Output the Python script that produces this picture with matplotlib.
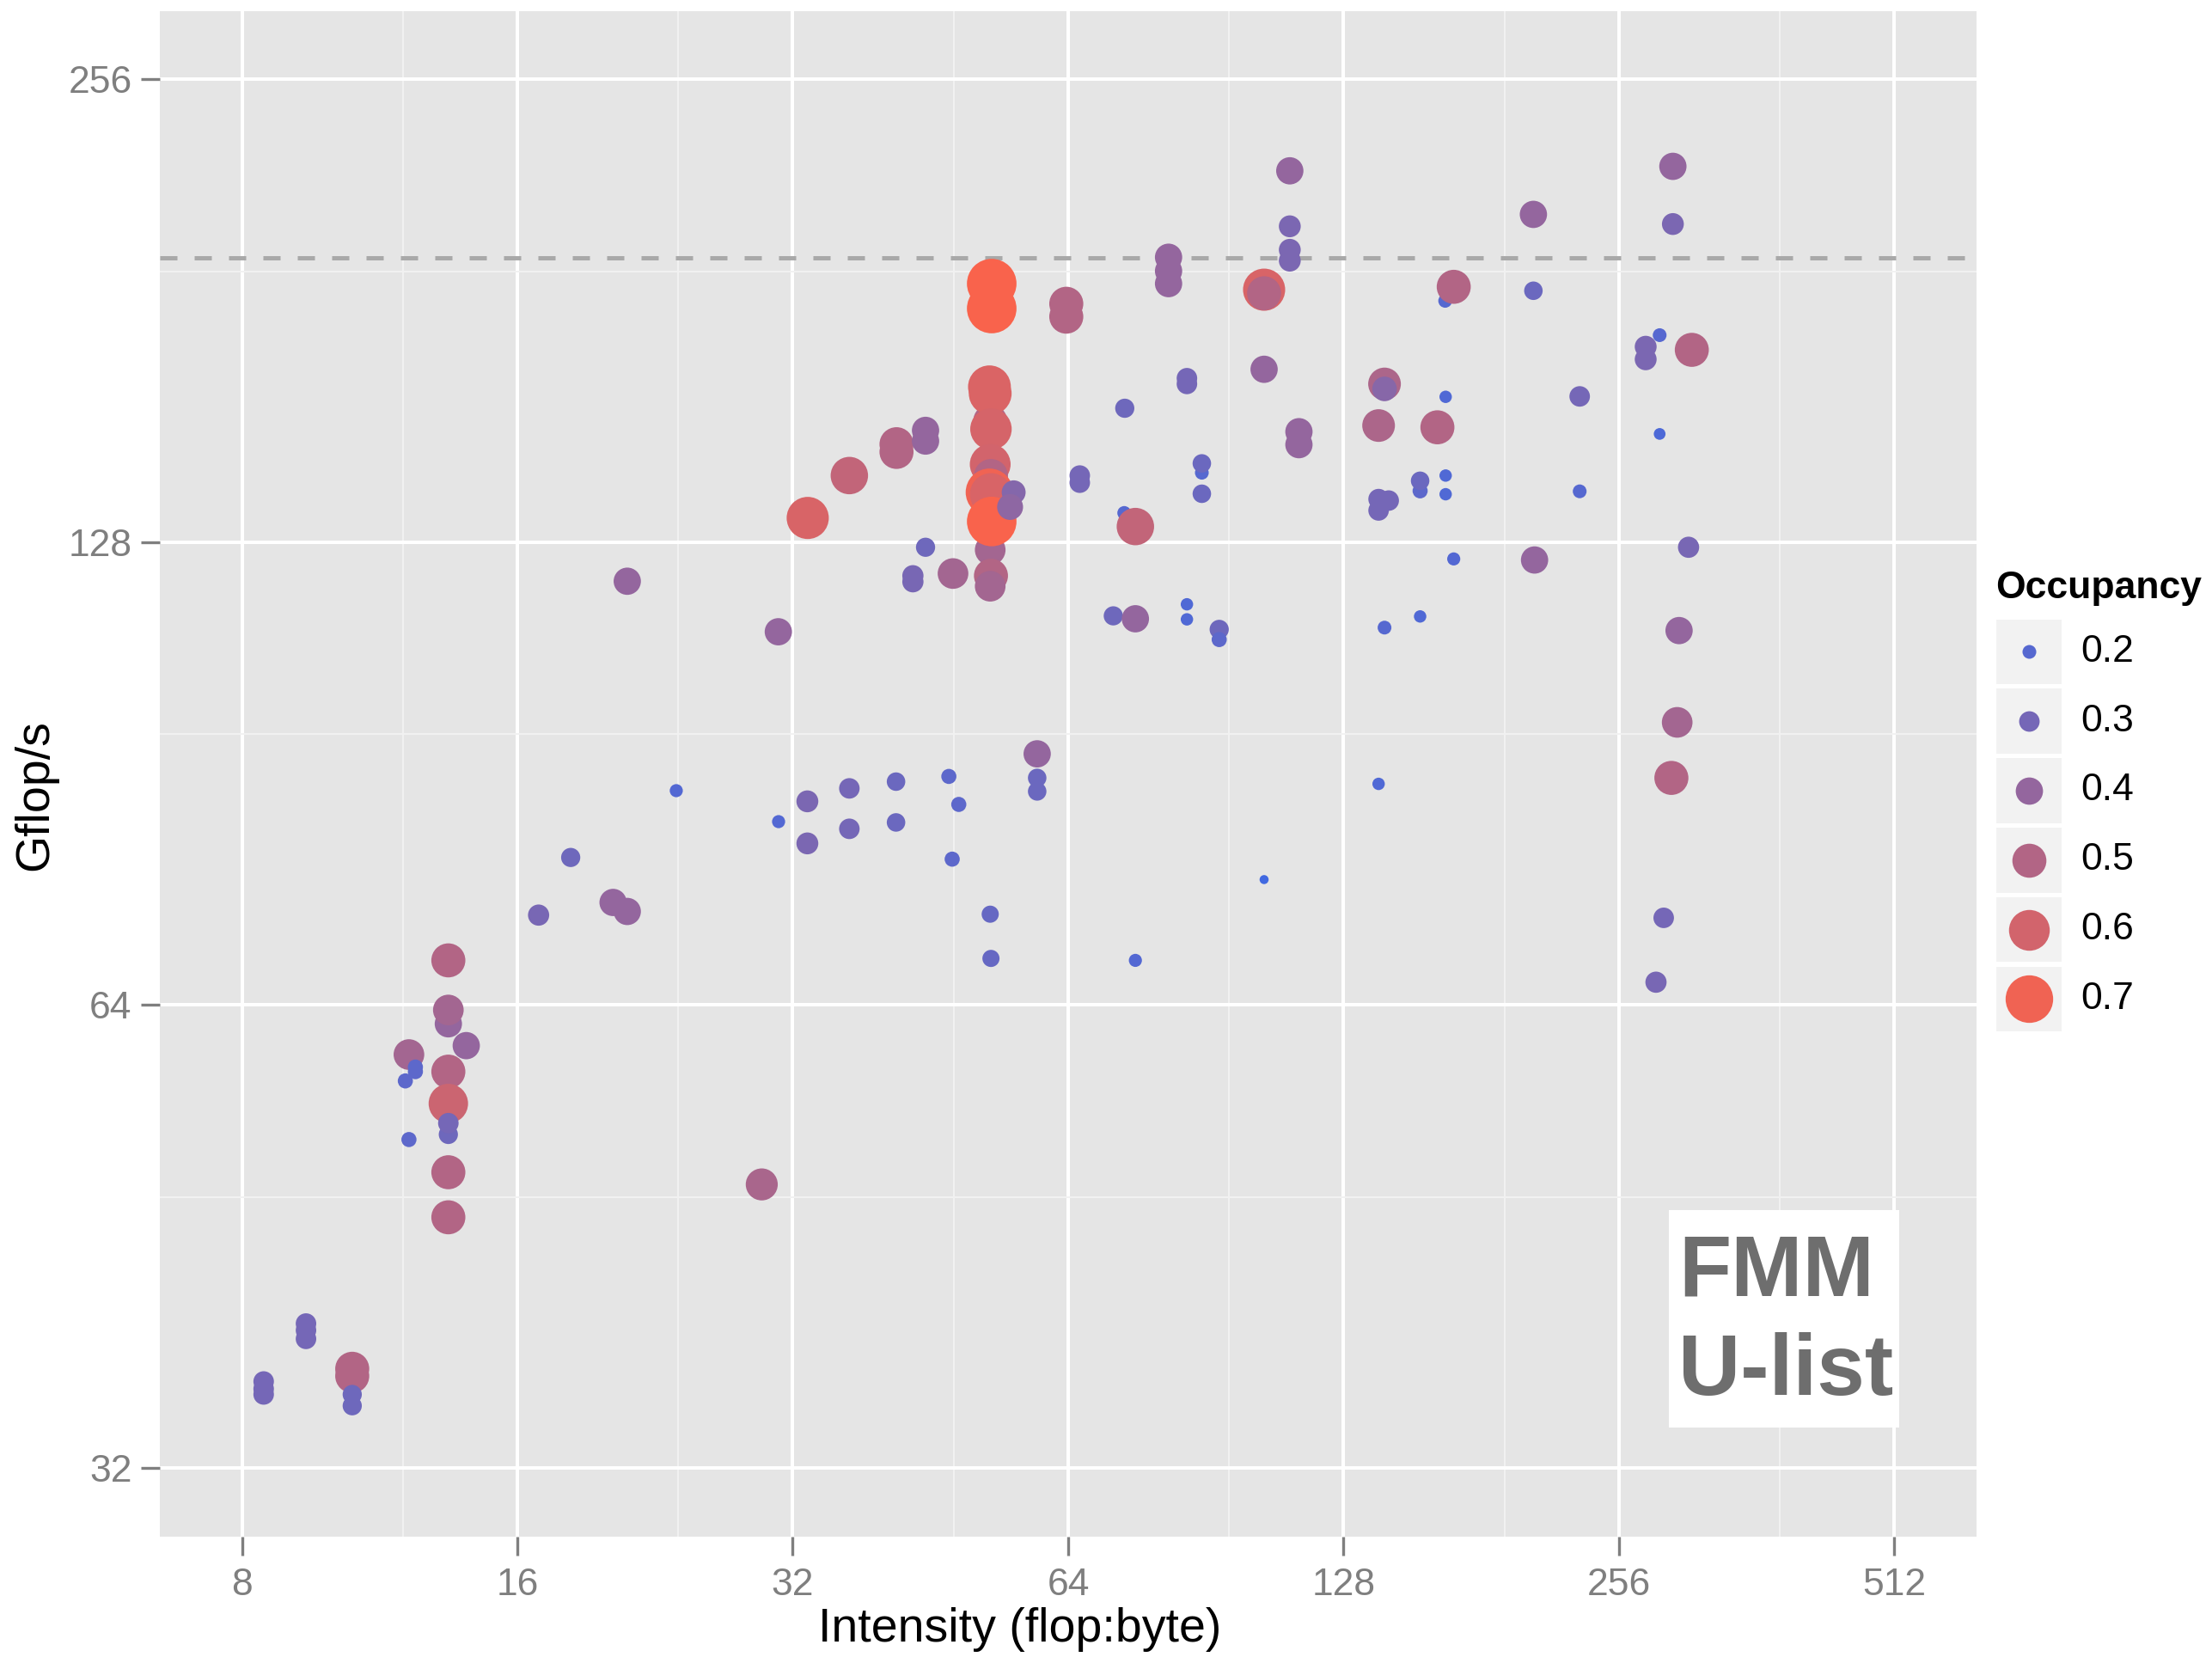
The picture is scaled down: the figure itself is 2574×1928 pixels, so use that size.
import matplotlib
matplotlib.use('Agg')
import matplotlib.pyplot as plt
from matplotlib.colors import LinearSegmentedColormap, Normalize
from matplotlib.patches import Rectangle
import numpy as np

plt.rcParams['font.family'] = ['Liberation Sans', 'DejaVu Sans']

# Arithmetic intensity (flop:byte), throughput (Gflop/s) and occupancy per kernel variant
intensity = [
    8.45, 8.45, 8.45, 9.40, 9.40, 9.40, 10.56, 10.56, 10.56, 10.56,
    13.45, 13.45, 13.45, 14.07, 12.18, 12.38, 12.38, 12.07, 13.45, 13.45,
    13.45, 13.45, 12.18, 13.45, 13.45,
    16.88, 18.3, 20.36, 21.1, 21.1, 23.87,
    29.6, 30.86, 30.88, 33.2, 33.2, 36.9, 36.9, 33.23, 36.9,
    41.55, 41.55, 44.7, 44.7, 44.7, 43.3, 43.3, 47.9, 41.5, 41.5, 47.4, 48.6, 47.8,
    52.6, 52.7, 52.6, 52.7, 52.6, 52.8, 52.8, 52.6, 52.5, 52.6, 52.7, 52.6, 52.7,
    52.5, 52.7, 52.8, 55.8, 55.3,
    59.2, 59.2, 59.2,
    63.7, 63.7, 65.9, 65.9, 73.8, 73.7, 75.8, 71.7, 75.8, 75.8,
    82.4, 82.4, 82.4, 86.3, 86.3, 89.6, 89.6, 89.6, 86.3, 86.3, 93.6, 93.6,
    104.8, 104.8, 104.8, 104.8, 111.8, 111.8, 111.8, 111.8, 114.4, 114.4,
    141.9, 141.9, 139.8, 162.1, 165.5, 139.8, 143.4, 139.8, 155.2, 155.2,
    165.5, 165.5, 141.9, 155.2, 139.8, 165.3, 168.9, 168.9,
    206.4, 206.4, 207.0, 231.9, 231.9, 273.8, 273.8, 283.6, 283.6, 293.2,
    293.2, 307.5, 305.0, 297.8, 296.4, 292.1, 286.5, 281.0,
]
gflops = [
    36.4, 36.0, 35.7, 39.7, 39.3, 38.8, 37.1, 36.7, 35.7, 35.1,
    68.4, 62.2, 63.5, 60.2, 59.4, 58.3, 57.9, 57.1, 57.9, 55.2,
    52.7, 53.6, 52.3, 49.8, 46.55,
    73.2, 79.8, 74.6, 73.6, 120.7, 88.2,
    48.9, 111.9, 84.2, 86.8, 81.5, 88.5, 83.3, 132.7, 141.4,
    148.2, 146.5, 151.3, 148.9, 127.0, 121.7, 120.6, 122.1, 89.4, 84.1, 90.1, 86.4, 79.6,
    73.3, 68.6, 126.5, 121.7, 119.8, 188.5, 181.6, 153.4, 161.5, 159.9, 151.6, 143.8, 141.3,
    137.9, 137.5, 132.0, 137.9, 134.9,
    93.2, 89.9, 88.1,
    182.9, 179.4, 141.4, 139.9, 156.4, 133.7, 131.0, 114.6, 114.1, 68.4,
    196.1, 192.1, 188.5, 163.6, 162.2, 142.0, 144.0, 137.6, 116.6, 114.0, 112.3, 110.6,
    186.8, 185.8, 165.8, 77.2, 223.2, 205.4, 198.3, 195.1, 151.0, 148.1,
    162.2, 161.0, 152.4, 152.0, 159.1, 136.5, 136.2, 134.2, 138.2, 140.3,
    141.4, 137.5, 112.6, 114.5, 89.1, 183.7, 187.6, 124.8,
    209.1, 186.5, 124.6, 159.2, 138.1, 171.5, 168.3, 174.5, 150.5, 224.7,
    206.1, 170.7, 127.0, 112.1, 97.7, 89.9, 72.9, 66.2,
]
occupancy = [
    0.30, 0.30, 0.30, 0.30, 0.30, 0.30, 0.50, 0.50, 0.28, 0.28,
    0.50, 0.40, 0.45, 0.40, 0.45, 0.22, 0.22, 0.22, 0.50, 0.58,
    0.28, 0.30, 0.22, 0.50, 0.50,
    0.31, 0.28, 0.40, 0.40, 0.40, 0.19,
    0.47, 0.40, 0.19, 0.32, 0.32, 0.30, 0.30, 0.62, 0.55,
    0.50, 0.50, 0.40, 0.40, 0.28, 0.31, 0.31, 0.45, 0.27, 0.27, 0.22, 0.22, 0.22,
    0.25, 0.25, 0.45, 0.50, 0.45, 0.73, 0.73, 0.50, 0.63, 0.63, 0.61, 0.60, 0.50,
    0.70, 0.62, 0.73, 0.35, 0.38,
    0.40, 0.27, 0.27,
    0.50, 0.50, 0.30, 0.30, 0.28, 0.20, 0.55, 0.28, 0.40, 0.19,
    0.40, 0.40, 0.40, 0.30, 0.30, 0.20, 0.27, 0.27, 0.18, 0.18, 0.28, 0.22,
    0.62, 0.50, 0.40, 0.13, 0.40, 0.32, 0.32, 0.32, 0.40, 0.40,
    0.48, 0.36, 0.48, 0.50, 0.18, 0.30, 0.30, 0.30, 0.22, 0.27,
    0.18, 0.18, 0.20, 0.18, 0.18, 0.20, 0.50, 0.19,
    0.40, 0.27, 0.40, 0.30, 0.20, 0.32, 0.32, 0.20, 0.17, 0.40,
    0.32, 0.50, 0.31, 0.40, 0.45, 0.50, 0.30, 0.31,
]
peak_gflops = 196

x_breaks = [8, 16, 32, 64, 128, 256, 512]
x_minor = [12, 24, 48, 96, 192, 384]
y_breaks = [32, 64, 128, 256]
y_minor = [48, 96, 192]
legend_levels = [0.2, 0.3, 0.4, 0.5, 0.6, 0.7]

W, H, DPI = 2574, 1928, 200

cmap = LinearSegmentedColormap.from_list('occ', ['royalblue', 'tomato'])
norm = Normalize(vmin=0.13, vmax=0.75)


def marker_area(occ):
    # diameter grows linearly with occupancy (pixels -> points)
    d_px = 0.3 + 78.6 * np.asarray(occ)
    return (d_px * 72.0 / DPI) ** 2


fig = plt.figure(figsize=(W / DPI, H / DPI), dpi=DPI)
fig.patch.set_facecolor('white')

left, right, top, bottom = 185.5, 2300, 13, 1788
ax = fig.add_axes([left / W, 1 - bottom / H, (right - left) / W, (bottom - top) / H])
ax.set_facecolor('#e5e5e5')
ax.set_xscale('log', base=2)
ax.set_yscale('log', base=2)
ax.set_xlim(6.5, 629.6)
ax.set_ylim(28.85, 283.5)

ax.set_xticks(x_breaks, [str(v) for v in x_breaks])
ax.set_xticks(x_minor, minor=True)
ax.set_yticks(y_breaks, [str(v) for v in y_breaks])
ax.set_yticks(y_minor, minor=True)
ax.tick_params(which='major', length=8, width=1.2, color='#7f7f7f',
               labelcolor='#7f7f7f', labelsize=16)
ax.tick_params(axis='y', which='major', pad=3.5)
ax.tick_params(axis='x', which='major', pad=5)
ax.tick_params(which='minor', length=0)
ax.grid(which='major', color='white', lw=1.45)
ax.grid(which='minor', color='#f2f2f2', lw=0.7)
ax.set_axisbelow(True)
for sp in ax.spines.values():
    sp.set_visible(False)

ax.axhline(peak_gflops, color='#a9a9a9', lw=1.8, dashes=(4, 4), zorder=2)

ax.scatter(intensity, gflops, s=marker_area(occupancy), c=cmap(norm(occupancy)),
           linewidths=0, zorder=3)

# label box in the lower right corner of the panel
ax.add_patch(Rectangle((0.8307, 0.0715), 0.1267, 0.1426, transform=ax.transAxes,
                       fc='white', ec='none', zorder=4))
ax.text(0.8359, 0.1724, 'FMM', transform=ax.transAxes, ha='left', va='center',
        fontsize=36, fontweight='bold', color='#6e6e6e', zorder=5)
ax.text(0.8359, 0.1076, 'U-list', transform=ax.transAxes, ha='left', va='center',
        fontsize=36, fontweight='bold', color='#6e6e6e', zorder=5)

fig.text(1187 / W, 1 - 1896 / H, 'Intensity (flop:byte)', ha='center', va='center',
         fontsize=20)
fig.text(41 / W, 1 - 925 / H, 'Gflop/s', ha='center', va='center', rotation=90,
         fontsize=20)

# occupancy legend (size + colour), laid out in figure pixels
lax = fig.add_axes([2300 / W, 1 - 1223 / H, 274 / W, 583 / H])
lax.set_xlim(2300, 2574)
lax.set_ylim(1223, 640)
lax.axis('off')
lax.text(2321.7, 684.4, 'Occupancy', ha='left', va='center', fontsize=16,
         fontweight='bold')
for i, lev in enumerate(legend_levels):
    cy = 758.4 + 80.8 * i
    lax.add_patch(Rectangle((2322.7, cy - 37.75), 76.3, 75.5, fc='#f2f2f2', ec='none'))
    lax.scatter([2360.8], [cy], s=marker_area([lev]), c=[cmap(norm(lev))],
                linewidths=0, zorder=3, clip_on=False)
    lax.text(2421.7, cy, f'{lev:.1f}', ha='left', va='center', fontsize=16)

fig.savefig('out.png', dpi=DPI)
plt.close(fig)
